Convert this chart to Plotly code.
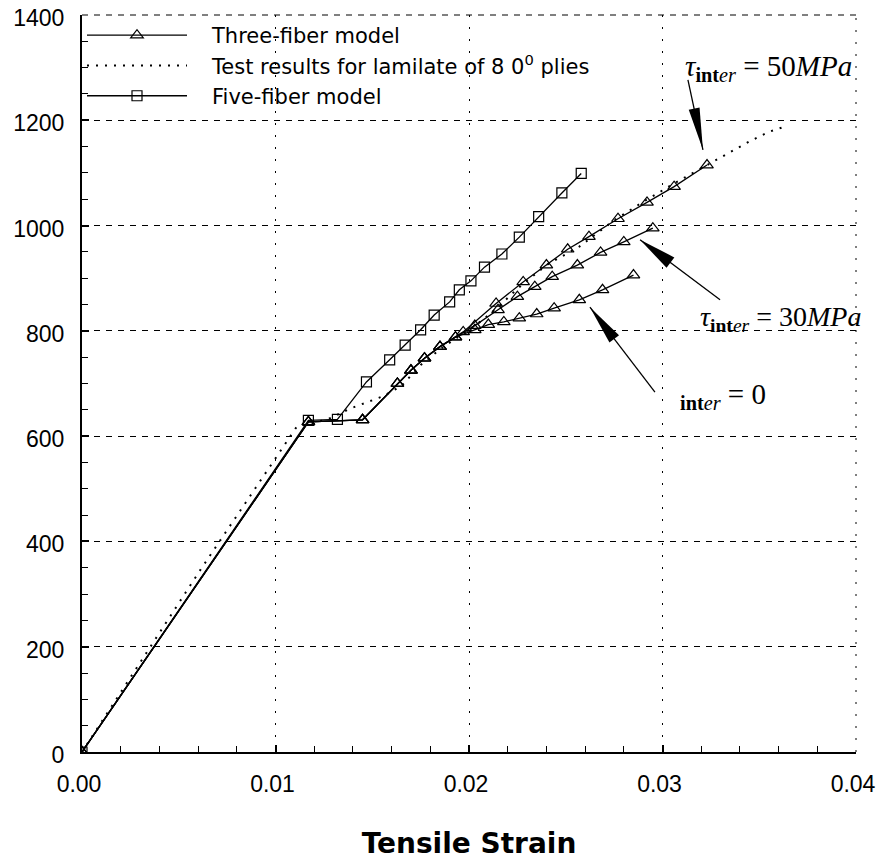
import math
import plotly.graph_objects as go

# Three-fiber model, interfacial strength 50 MPa
tau50_strain = [0, 0.0117, 0.0145, 0.0163, 0.0170, 0.0177, 0.0185, 0.0197, 0.0214, 0.0228,
                0.0240, 0.0251, 0.0262, 0.0277, 0.0292, 0.0306, 0.0323]
tau50_stress = [0, 627, 631, 700, 725, 748, 770, 798, 852, 893,
                925, 955, 979, 1013, 1044, 1074, 1115]

# Three-fiber model, interfacial strength 30 MPa
tau30_strain = [0, 0.0117, 0.0145, 0.0163, 0.0170, 0.0177, 0.0185, 0.0193, 0.0203, 0.0215,
                0.0225, 0.0234, 0.0243, 0.0256, 0.0268, 0.0280, 0.0295]
tau30_stress = [0, 627, 631, 700, 725, 748, 770, 788, 810, 840,
                865, 884, 903, 925, 949, 969, 995]

# Three-fiber model, interfacial strength 0
tau0_strain = [0, 0.0117, 0.0145, 0.0163, 0.0170, 0.0177, 0.0185, 0.0193, 0.0203, 0.0210,
               0.0218, 0.0226, 0.0235, 0.0244, 0.0257, 0.0269, 0.0285]
tau0_stress = [0, 627, 631, 700, 725, 748, 770, 788, 802, 812,
               817, 824, 832, 843, 859, 878, 906]

# Five-fiber model
five_strain = [0, 0.0117, 0.0132, 0.0147, 0.0159, 0.0167, 0.0175, 0.0182, 0.0190, 0.0195,
               0.0201, 0.0208, 0.0217, 0.0226, 0.0236, 0.0248, 0.0258]
five_stress = [0, 630, 632, 703, 745, 773, 802, 830, 855, 878,
               895, 921, 946, 978, 1017, 1062, 1099]

# Test results, laminate of 8 0-degree plies
test_strain = [0, 0.0061, 0.0111, 0.0127, 0.0139, 0.0155, 0.0165, 0.0175, 0.0185, 0.0195,
               0.0205, 0.0215, 0.0225, 0.0240, 0.0257, 0.0275, 0.0290, 0.0306, 0.0323,
               0.0335, 0.0345, 0.0355, 0.0364]
test_stress = [0, 345, 618, 632, 653, 675, 695, 735, 765, 790,
               815, 845, 880, 925, 960, 1010, 1045, 1080, 1115,
               1140, 1160, 1178, 1189]

x_ticks = [0.0, 0.01, 0.02, 0.03, 0.04]
y_ticks = [0, 200, 400, 600, 800, 1000, 1200, 1400]

SANS = 'Liberation Sans, Arial, sans-serif'
WIDE = 'DejaVu Sans, sans-serif'
SERIF = 'Liberation Serif, Times New Roman, serif'
PAD = '\u00a0\u00a0\u00a0'

fig = go.Figure()

model_line = dict(color='black', width=1.3)
tri = dict(symbol='triangle-up-open', size=11, color='black', line=dict(width=1.2, color='black'))

fig.add_trace(go.Scatter(
    x=tau50_strain, y=tau50_stress, mode='lines+markers',
    name=PAD + 'Three-fiber model', line=model_line, marker=tri
))
fig.add_trace(go.Scatter(
    x=test_strain, y=test_stress, mode='lines',
    name=PAD + 'Test results for lamilate of 8 0<sup>0</sup> plies',
    line=dict(color='black', width=2, dash='2px,7px')
))
fig.add_trace(go.Scatter(
    x=five_strain, y=five_stress, mode='lines+markers',
    name=PAD + 'Five-fiber model', line=model_line,
    marker=dict(symbol='square-open', size=10, color='black', line=dict(width=1.2, color='black'))
))
fig.add_trace(go.Scatter(
    x=tau30_strain, y=tau30_stress, mode='lines+markers',
    showlegend=False, line=model_line, marker=tri
))
fig.add_trace(go.Scatter(
    x=tau0_strain, y=tau0_stress, mode='lines+markers',
    showlegend=False, line=model_line, marker=tri
))


def arrow_shapes(tip_x, tip_y, dx, dy, head_len, head_w):
    # dx, dy: pixel offset from tip to tail (screen, y down)
    n = math.hypot(dx, dy)
    ux, uy = dx / n, -dy / n
    bx, by = ux * head_len, uy * head_len
    px, py = -uy * head_w / 2, ux * head_w / 2
    head = dict(
        type='path', xref='x', yref='y', xsizemode='pixel', ysizemode='pixel',
        xanchor=tip_x, yanchor=tip_y,
        path=f'M0,0 L{bx + px:.1f},{by + py:.1f} L{bx - px:.1f},{by - py:.1f} Z',
        fillcolor='black', line=dict(width=0)
    )
    shaft = dict(
        type='line', xref='x', yref='y', xsizemode='pixel', ysizemode='pixel',
        xanchor=tip_x, yanchor=tip_y, x0=0, y0=0, x1=dx, y1=-dy,
        line=dict(color='black', width=1.3)
    )
    return [shaft, head]


# dashed top edge and dotted right edge of the frame (grid lines at the range ends)
shapes = [
    dict(type='line', xref='x domain', yref='y domain', x0=0, x1=1, y0=1, y1=1,
         line=dict(color='black', width=1, dash='6px,6px')),
    dict(type='line', xref='x domain', yref='y domain', x0=1, x1=1, y0=0, y1=1,
         line=dict(color='black', width=1, dash='2px,10px')),
]
shapes += arrow_shapes(0.03209, 1144, -15, -70, 42, 11)
shapes += arrow_shapes(0.02884, 973, 80, 60, 38, 13)
shapes += arrow_shapes(0.02625, 845, 65, 85, 40, 12)

label_font = dict(family=SERIF, size=29, color='black')
annotations = [
    dict(x=0.03105, y=1299, xref='x', yref='y', xanchor='left', yanchor='middle', showarrow=False,
         text='<i>τ</i><sub><b>int</b><i>er</i></sub> = 50<i>MPa</i>', font=label_font),
    dict(x=0.03183, y=824, xref='x', yref='y', xanchor='left', yanchor='middle', showarrow=False,
         text='<i>τ</i><sub><b>int</b><i>er</i></sub> = 30<i>MPa</i>', font=dict(label_font, size=28)),
    dict(x=0.0308, y=676, xref='x', yref='y', xanchor='left', yanchor='middle', showarrow=False,
         text='<sub><b>int</b><i>er</i></sub> = 0', font=label_font),
]

fig.update_layout(
    width=882, height=867,
    margin=dict(l=82, r=26, t=15, b=115),
    paper_bgcolor='white', plot_bgcolor='white',
    font=dict(family=SANS, size=23, color='black'),
    shapes=shapes,
    annotations=annotations,
    showlegend=True,
    legend=dict(
        x=0, y=1, xanchor='left', yanchor='top',
        bgcolor='rgba(0,0,0,0)', borderwidth=0,
        font=dict(family=WIDE, size=21, color='black'),
        itemwidth=100, tracegroupgap=0
    ),
    xaxis=dict(
        range=[0, 0.04], tickvals=x_ticks, tickformat='.2f', automargin=False,
        ticklabeloverflow='allow', ticklabelshift=-3,
        showline=True, linecolor='black', linewidth=2,
        ticks='inside', ticklen=7, tickwidth=1.5, tickcolor='black',
        ticklabelstandoff=10,
        minor=dict(dtick=0.002, ticks='inside', ticklen=6, tickwidth=1.3, tickcolor='black', showgrid=False),
        showgrid=True, gridcolor='black', gridwidth=1, griddash='2px,10px',
        zeroline=False,
        title=dict(text='<b>Tensile Strain</b>', font=dict(family=WIDE, size=28), standoff=38),
    ),
    yaxis=dict(
        range=[0, 1400], tickvals=y_ticks, automargin=False,
        ticklabeloverflow='allow', ticklabelshift=3,
        showline=True, linecolor='black', linewidth=2,
        ticks='inside', ticklen=7, tickwidth=1.5, tickcolor='black',
        ticklabelstandoff=11,
        minor=dict(dtick=50, ticks='inside', ticklen=6, tickwidth=1.3, tickcolor='black', showgrid=False),
        showgrid=True, gridcolor='black', gridwidth=1, griddash='6px,6px',
        zeroline=False,
    ),
)

# drop the default page margin so the figure sits at the window's top-left corner
fig.write_html("out.html", config={'displayModeBar': False},
               post_script="document.body.style.margin = '0';")
